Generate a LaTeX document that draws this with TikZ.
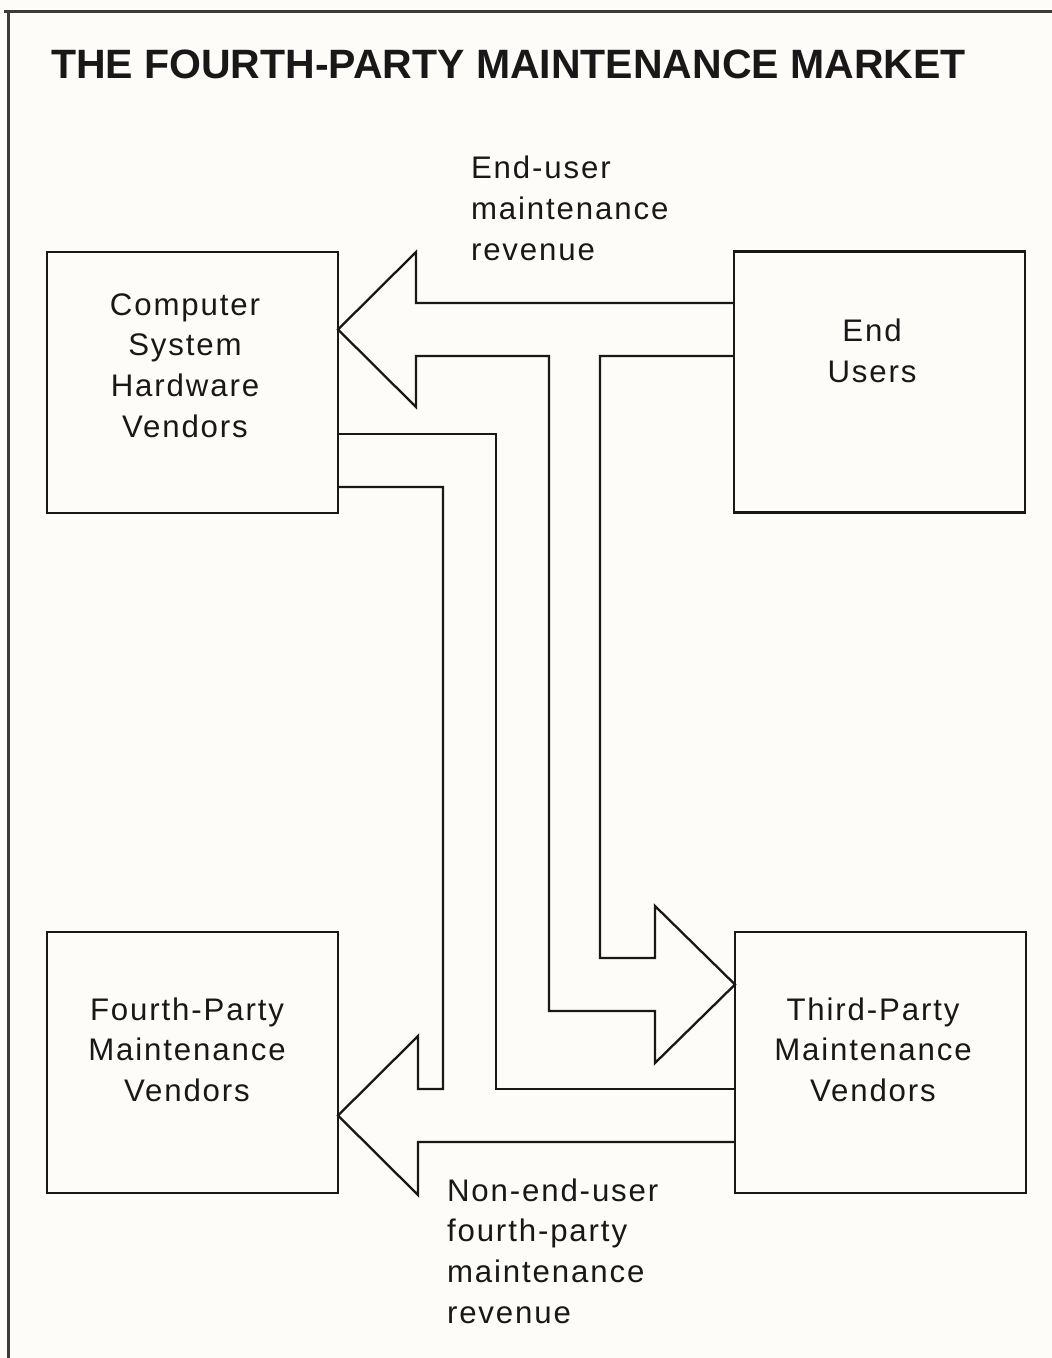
\documentclass[tikz,border=0pt]{standalone}
\usepackage{fontspec}
\setmainfont{Liberation Sans}
\newfontfamily\labelfont{Liberation Sans}[LetterSpace=6]
\definecolor{paper}{RGB}{253,252,248}
\definecolor{ink}{RGB}{24,24,24}

\begin{document}
\begin{tikzpicture}[x=0.5pt,y=-0.5pt,
  every node/.style={inner sep=0pt,outer sep=0pt,text=ink},
  party/.style={draw=ink,line width=1.15pt,minimum width=145.5pt,minimum height=130.5pt},
  flow/.style={draw=ink,line width=1.15pt,line join=miter},
  pagerule/.style={draw=ink!85,line width=1.1pt},
  boxtext/.style={font=\labelfont\fontsize{15.6pt}{20.35pt}\selectfont,
    text width=140pt,align=center,anchor=base},
  sidetext/.style={font=\labelfont\fontsize{15.6pt}{20.35pt}\selectfont,
    text width=120pt,align=left,anchor=base west},
]
% page
\fill[paper] (0,0) rectangle (1052,1358);
\useasboundingbox (0,0) rectangle (1052,1358);
\draw[pagerule] (4,11.5) -- (1052,11.5);
\draw[pagerule] (8.5,11.5) -- (8.5,1358);

% title
\node[anchor=base west,font=\bfseries\fontsize{20.5pt}{24pt}\selectfont]
  (title) at (51,78.5) {THE FOURTH-PARTY MAINTENANCE MARKET};

% the four market participants
\node[party] (cshv) at (192.5,382.5) {};
\node[party] (eu)   at (879.5,382)   {};
\node[party] (fp)   at (192.5,1062.5) {};
\node[party] (tp)   at (880.5,1062.5) {};

\node[boxtext] (cshvtext) at (185,315) {Computer\\System\\Hardware\\Vendors};
\node[boxtext] (eutext)   at (872,342) {End\\Users};
\node[boxtext] (fptext)   at (187,1020) {Fourth-Party\\Maintenance\\Vendors};
\node[boxtext] (tptext)   at (873,1020) {Third-Party\\Maintenance\\Vendors};

% levels of the flow channels
\coordinate (upT) at (0,303);    \coordinate (upB) at (0,356);
\coordinate (upAx) at (0,329.5);
\coordinate (tpAx) at (0,984.5);
\coordinate (hwT) at (0,434);    \coordinate (hwB) at (0,487);
\coordinate (loT) at (0,1089);   \coordinate (loB) at (0,1142);
\coordinate (loAx) at (0,1115.5);

% end-user revenue: to hardware vendors, branching down to third parties
\draw[flow] (eu.west |- upT) -- (416,303) -- (416,252) -- (cshv.east |- upAx)
  -- (416,407) -- (416,356) -- (549,356) -- (549,1011) -- (655,1011)
  -- (655,1063) -- (tp.west |- tpAx) -- (655,906) -- (655,958)
  -- (600,958) -- (600,356) -- (eu.west |- upB);

% non-end-user revenue: from hardware vendors and third parties to fourth parties
\draw[flow] (tp.west |- loT) -- (496,1089) -- (496,434) -- (cshv.east |- hwT);
\draw[flow] (cshv.east |- hwB) -- (443,487) -- (443,1089) -- (418,1089)
  -- (418,1036) -- (fp.east |- loAx) -- (418,1195) -- (418,1142)
  -- (tp.west |- loB);

% flow labels
\node[sidetext] (eurev)  at (471,179)  {End-user\\maintenance\\revenue};
\node[sidetext] (nonrev) at (447,1201) {Non-end-user\\fourth-party\\maintenance\\revenue};
\end{tikzpicture}
\end{document}
